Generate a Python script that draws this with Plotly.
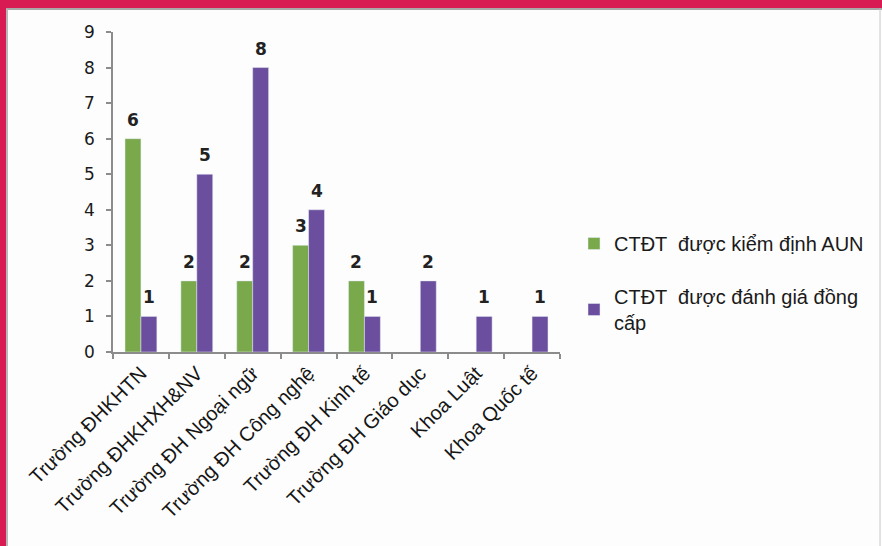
import plotly.graph_objects as go

categories = ["Trường ĐHKHTN", "Trường ĐHKHXH&NV", "Trường ĐH Ngoại ngữ", "Trường ĐH Công nghệ",
              "Trường ĐH Kinh tế", "Trường ĐH Giáo dục", "Khoa Luật", "Khoa Quốc tế"]
aun_values = [6, 2, 2, 3, 2, None, None, None]
peer_values = [1, 5, 8, 4, 1, 2, 1, 1]
series_names = ["CTĐT  được kiểm định AUN", "CTĐT  được đánh giá đồng<br>cấp"]
y_ticks = [0, 1, 2, 3, 4, 5, 6, 7, 8, 9]

W, H = 882, 546
L, R, T, B = 113, 322, 32, 194
pw, ph = W - L - R, H - T - B

green = "#79a94b"
purple = "#6b4e9d"

fig = go.Figure()
fig.add_trace(go.Bar(x=categories, y=aun_values, name=series_names[0], marker_color=green,
                     legendgroup="a"))
fig.add_trace(go.Bar(x=categories, y=peer_values, name=series_names[1], marker_color=purple,
                     legendgroup="b"))

label_font = dict(family="DejaVu Sans", size=17, color="#222222")
for vals, shift in ((aun_values, -8), (peer_values, 8)):
    for c, v in zip(categories, vals):
        if v:
            fig.add_annotation(x=c, y=v, text=f"<b>{v}</b>", showarrow=False, xshift=shift,
                               yanchor="bottom", yshift=7, font=label_font)

def px_x(p):
    return (p - L) / pw

def px_y(p):
    return (H - B - p) / ph

crimson = "#d81b52"
shapes = [
    dict(type="rect", xref="paper", yref="paper", x0=px_x(0), x1=px_x(W), y0=px_y(8), y1=px_y(0),
         fillcolor=crimson, line_width=0, layer="above"),
    dict(type="rect", xref="paper", yref="paper", x0=px_x(0), x1=px_x(6), y0=px_y(H), y1=px_y(0),
         fillcolor=crimson, line_width=0, layer="above"),
    dict(type="line", xref="paper", yref="paper", x0=px_x(6), x1=px_x(W), y0=px_y(9), y1=px_y(9),
         line=dict(color="#a8a8a8", width=2)),
    dict(type="line", xref="paper", yref="paper", x0=px_x(7), x1=px_x(7), y0=px_y(9), y1=px_y(H),
         line=dict(color="#b8b8b8", width=2)),
    dict(type="line", xref="paper", yref="paper", x0=px_x(880), x1=px_x(880), y0=px_y(9), y1=px_y(H),
         line=dict(color="#c8c8c8", width=1)),
]

fig.update_layout(
    width=W, height=H,
    margin=dict(l=L, r=R, t=T, b=B),
    paper_bgcolor="#fdfdfd", plot_bgcolor="#fdfdfd",
    barmode="group", bargap=0.43, bargroupgap=0,
    showlegend=True,
    legend=dict(xref="container", yref="container", x=574 / W, y=1 - 224 / H,
                xanchor="left", yanchor="top", traceorder="grouped", tracegroupgap=24,
                font=dict(family="Liberation Sans", size=20, color="#1a1a1a"),
                bgcolor="rgba(0,0,0,0)"),
    shapes=shapes,
    font=dict(family="Liberation Sans", color="#1a1a1a"),
)
fig.update_xaxes(showline=True, linecolor="#8c8c8c", linewidth=1.5, ticks="outside",
                 tickson="boundaries", ticklen=5, tickcolor="#8c8c8c", tickwidth=1.5,
                 tickangle=-45, tickfont=dict(family="Liberation Sans", size=20, color="#151515"),
                 showgrid=False, zeroline=False)
fig.update_yaxes(range=[0, 9], tickvals=y_ticks, showline=True, linecolor="#8c8c8c", linewidth=1.5,
                 ticks="outside", ticklen=5, tickcolor="#8c8c8c", tickwidth=1.5,
                 tickfont=dict(family="DejaVu Sans", size=17, color="#1a1a1a"),
                 tickprefix="<b>", ticksuffix="</b>", ticklabelstandoff=8,
                 showgrid=False, zeroline=False)

fig.write_html("out.html", config={"displayModeBar": False},
               post_script="document.body.style.margin='0';")
